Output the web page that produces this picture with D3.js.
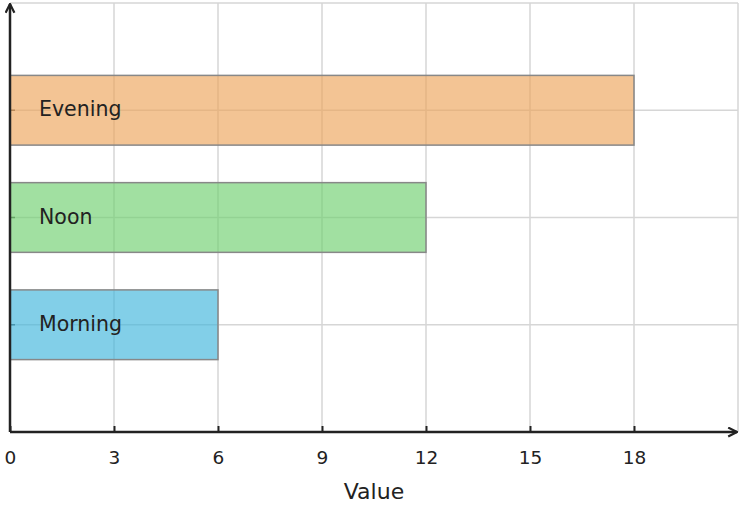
<!DOCTYPE html>
<html>
<head>
<meta charset="utf-8">
<script src="https://cdn.jsdelivr.net/npm/d3@7"></script>
<style>
  body { margin: 0; background: #fff; }
  text { font-family: "DejaVu Sans", sans-serif; }
</style>
</head>
<body>
<div id="chart"></div>
<script>
// data
var categories = ["Morning", "Noon", "Evening"];
var values = [6, 12, 18];
var barColors = ["#3fb5dc", "#6fcf6f", "#eda45a"];
var xTicks = [0, 3, 6, 9, 12, 15, 18];

var width = 742,
  height = 508;
var margin = { top: 3, right: 4, bottom: 76, left: 10 };

var svg = d3
  .select("#chart")
  .append("svg")
  .attr("width", width)
  .attr("height", height);

var x = d3.scaleLinear().domain([0, 21]).range([margin.left, width - margin.right]);
// categories sit at 1,2,3 on a 0..4 axis
var y = d3.scaleLinear().domain([0, 4]).range([height - margin.bottom, margin.top]);
var barH = (y(0) - y(1)) * 0.65;

// grid
var grid = svg.append("g");
grid
  .selectAll(".vgrid")
  .data(xTicks.slice(1).concat([21]))
  .join("line")
  .attr("x1", (d) => x(d))
  .attr("x2", (d) => x(d))
  .attr("y1", y(4))
  .attr("y2", y(0))
  .attr("stroke", "#d6d6d6")
  .attr("stroke-width", 1.5);
grid
  .selectAll(".hgrid")
  .data([1, 2, 3, 4])
  .join("line")
  .attr("x1", x(0))
  .attr("x2", x(21))
  .attr("y1", (d) => y(d))
  .attr("y2", (d) => y(d))
  .attr("stroke", "#d6d6d6")
  .attr("stroke-width", 1.5);

// small y ticks
svg
  .append("g")
  .selectAll("line")
  .data(categories)
  .join("line")
  .attr("x1", x(0))
  .attr("x2", x(0) + 5)
  .attr("y1", (d, i) => y(i + 1))
  .attr("y2", (d, i) => y(i + 1))
  .attr("stroke", "#555")
  .attr("stroke-width", 1.5);

// bars
svg
  .append("g")
  .selectAll("rect")
  .data(values)
  .join("rect")
  .attr("x", x(0))
  .attr("y", (d, i) => y(i + 1) - barH / 2)
  .attr("width", (d) => x(d) - x(0))
  .attr("height", barH)
  .attr("fill", (d, i) => barColors[i])
  .attr("fill-opacity", 0.65)
  .attr("stroke", "#888")
  .attr("stroke-width", 1.5);

// labels inside bars
svg
  .append("g")
  .selectAll("text")
  .data(categories)
  .join("text")
  .attr("x", x(0) + 29)
  .attr("y", (d, i) => y(i + 1))
  .attr("dy", "0.3em")
  .attr("font-size", "20.5px")
  .attr("fill", "#222")
  .text((d) => d);

// axes with arrows
svg
  .append("defs")
  .append("marker")
  .attr("id", "arrow")
  .attr("viewBox", "0 0 10 10")
  .attr("refX", 9)
  .attr("refY", 5)
  .attr("markerWidth", 11)
  .attr("markerHeight", 11)
  .attr("markerUnits", "userSpaceOnUse")
  .attr("orient", "auto")
  .append("path")
  .attr("d", "M1,1 L9,5 L1,9")
  .attr("fill", "none")
  .attr("stroke", "#222")
  .attr("stroke-width", 2);

svg
  .append("line")
  .attr("x1", x(0))
  .attr("x2", x(21) - 1)
  .attr("y1", y(0))
  .attr("y2", y(0))
  .attr("stroke", "#222")
  .attr("stroke-width", 2.5)
  .attr("marker-end", "url(#arrow)");

svg
  .append("line")
  .attr("x1", x(0))
  .attr("x2", x(0))
  .attr("y1", y(0))
  .attr("y2", y(4) + 1)
  .attr("stroke", "#222")
  .attr("stroke-width", 2.5)
  .attr("marker-end", "url(#arrow)");

var xAxis = svg
  .append("g")
  .attr("transform", "translate(0," + y(0) + ")")
  .call(d3.axisBottom(x).tickValues(xTicks).tickSizeInner(-6).tickSizeOuter(0).tickPadding(19));
xAxis.select(".domain").remove();
xAxis.selectAll(".tick line").attr("stroke", "#222").attr("stroke-width", 2);
xAxis.selectAll(".tick text").attr("font-size", "18.5px").attr("fill", "#222").attr("font-family", "DejaVu Sans, sans-serif");

svg
  .append("text")
  .attr("x", (x(0) + x(21)) / 2)
  .attr("y", 499)
  .attr("text-anchor", "middle")
  .attr("font-size", "22px")
  .attr("fill", "#222")
  .text("Value");
</script>
</body>
</html>
